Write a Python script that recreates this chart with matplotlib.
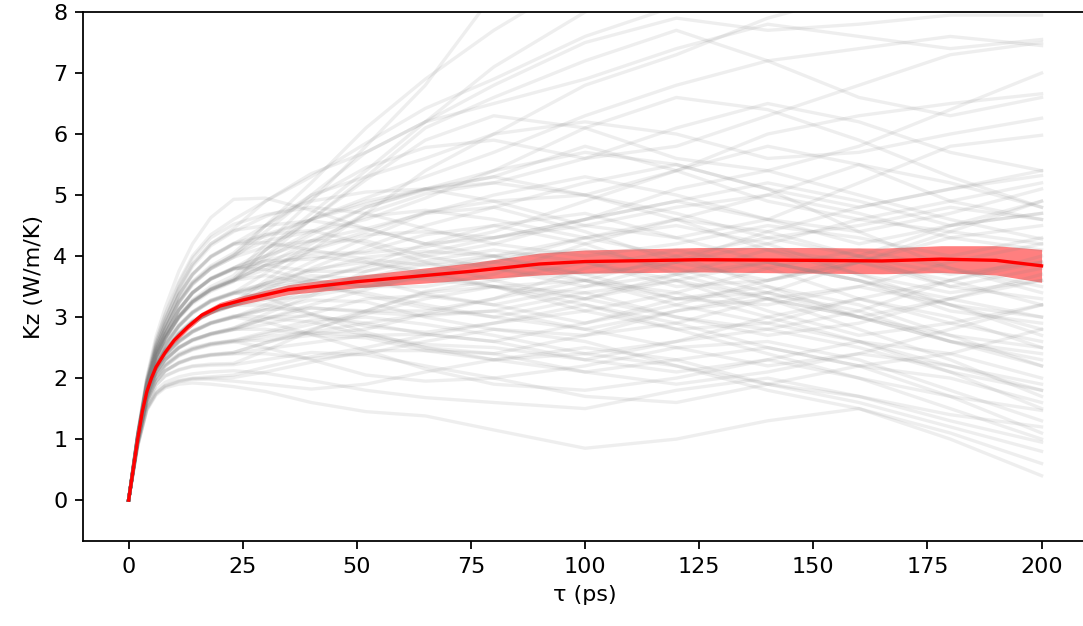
"""Green-Kubo running integral of Kz for each trajectory, with the ensemble mean."""

import matplotlib

matplotlib.use("Agg")
import matplotlib.pyplot as plt
import numpy as np

# correlation time grid shared by the individual trajectories (ps)
tau = [0, 2, 4, 6, 8, 11, 14, 18, 23, 30, 40, 52, 65, 80, 100, 120, 140, 160, 180, 200]

# running Kz integrals of the individual trajectories (W/m/K)
runs = [
    [0, 1.03, 1.86, 2.36, 2.68, 3.02, 3.28, 3.5, 3.68, 4.2, 4.9, 5.8, 6.8, 8.3, 9.5, 10, 10, 10, 10, 10],
    [0, 1.05, 1.9, 2.45, 2.82, 3.28, 3.58, 3.84, 4.05, 4.5, 5.2, 6.1, 6.9, 7.7, 8.6, 9, 9, 9, 9, 9],
    [0, 1.02, 1.84, 2.33, 2.63, 2.98, 3.22, 3.42, 3.58, 4.1, 4.7, 5.4, 6.2, 7.1, 8.0, 8.6, 9, 9, 9, 9],
    [0, 1.08, 1.96, 2.56, 2.97, 3.48, 3.87, 4.2, 4.45, 4.9, 5.35, 5.7, 6.2, 6.8, 7.5, 7.9, 7.7, 7.8, 7.95, 7.95],
    [0, 1.06, 1.91, 2.46, 2.8, 3.24, 3.54, 3.8, 4.02, 4.4, 5.0, 5.7, 6.2, 6.5, 6.9, 7.4, 7.8, 7.6, 7.4, 7.55],
    [0, 1.1, 2.02, 2.68, 3.15, 3.75, 4.2, 4.63, 4.93, 4.95, 4.75, 4.45, 4.2, 4.3, 4.6, 4.9, 5.2, 4.9, 4.5, 4.7],
    [0, 1.04, 1.85, 2.36, 2.66, 3.01, 3.26, 3.47, 3.63, 4.0, 4.6, 5.3, 6.1, 6.6, 7.2, 7.7, 7.2, 6.6, 6.3, 6.6],
    [0, 1.05, 1.89, 2.44, 2.79, 3.26, 3.57, 3.82, 4.0, 4.5, 5.0, 5.3, 5.6, 6.0, 6.2, 6.0, 5.6, 5.7, 6.0, 6.26],
    [0, 1.0, 1.79, 2.22, 2.47, 2.75, 2.95, 3.1, 3.24, 3.6, 4.1, 4.7, 5.4, 6.0, 6.8, 7.3, 7.9, 8.3, 8.6, 8.8],
    [0, 1.03, 1.84, 2.34, 2.64, 3.0, 3.24, 3.45, 3.62, 4.1, 4.6, 4.95, 5.3, 5.7, 6.3, 6.8, 7.2, 7.4, 7.6, 7.45],
    [0, 1.08, 1.94, 2.54, 2.94, 3.44, 3.83, 4.17, 4.4, 4.65, 4.9, 5.05, 5.1, 4.9, 4.5, 4.3, 4.6, 5.2, 5.8, 5.98],
    [0, 1.04, 1.9, 2.45, 2.8, 3.24, 3.55, 3.79, 3.98, 4.35, 4.6, 4.85, 5.1, 5.4, 5.7, 5.5, 5.1, 4.8, 5.1, 5.32],
    [0, 1.03, 1.86, 2.37, 2.67, 3.02, 3.27, 3.46, 3.61, 3.95, 4.35, 4.8, 5.1, 5.3, 5.0, 5.4, 6.0, 6.3, 6.5, 6.66],
    [0, 1.05, 1.9, 2.46, 2.81, 3.25, 3.56, 3.8, 4.01, 4.25, 4.4, 4.6, 4.95, 5.4, 6.1, 6.6, 6.4, 5.9, 5.3, 4.8],
    [0, 1.02, 1.85, 2.34, 2.65, 3.0, 3.24, 3.44, 3.59, 3.85, 4.25, 4.65, 4.75, 4.6, 4.3, 4.6, 5.0, 5.5, 5.2, 4.8],
    [0, 1.0, 1.77, 2.2, 2.46, 2.74, 2.93, 3.09, 3.21, 3.55, 3.9, 4.3, 4.7, 5.0, 5.3, 5.0, 4.6, 4.4, 4.7, 5.1],
    [0, 1.03, 1.85, 2.35, 2.64, 2.99, 3.25, 3.46, 3.6, 3.78, 4.1, 4.35, 4.4, 4.3, 4.6, 5.1, 5.4, 5.0, 4.6, 4.28],
    [0, 1.07, 1.95, 2.55, 2.96, 3.46, 3.86, 4.2, 4.42, 4.5, 4.58, 4.45, 4.2, 4.0, 3.7, 3.9, 4.4, 4.8, 5.1, 5.4],
    [0, 0.99, 1.78, 2.21, 2.44, 2.71, 2.9, 3.06, 3.19, 3.45, 3.8, 4.15, 4.5, 4.8, 5.2, 5.5, 5.1, 4.4, 3.8, 3.5],
    [0, 1.03, 1.84, 2.35, 2.66, 3.01, 3.25, 3.44, 3.6, 3.85, 4.05, 4.05, 4.15, 4.4, 4.9, 5.4, 5.8, 5.5, 4.9, 4.6],
    [0, 1.06, 1.9, 2.44, 2.79, 3.23, 3.53, 3.79, 3.98, 4.15, 4.25, 4.45, 4.7, 4.8, 4.4, 3.9, 3.6, 3.9, 4.4, 4.9],
    [0, 1.0, 1.78, 2.2, 2.45, 2.72, 2.92, 3.08, 3.2, 3.38, 3.6, 3.85, 4.2, 4.5, 4.7, 4.3, 3.9, 3.6, 3.3, 3.0],
    [0, 0.98, 1.71, 2.1, 2.31, 2.51, 2.63, 2.73, 2.82, 3.05, 3.35, 3.75, 4.0, 4.2, 4.6, 4.9, 4.6, 4.2, 4.5, 4.9],
    [0, 1.01, 1.79, 2.21, 2.46, 2.73, 2.93, 3.09, 3.22, 3.45, 3.6, 3.5, 3.5, 3.7, 4.2, 4.6, 4.4, 4.0, 3.7, 3.9],
    [0, 1.03, 1.85, 2.35, 2.65, 3.0, 3.25, 3.45, 3.61, 3.85, 4.0, 3.9, 3.7, 3.5, 3.6, 4.0, 4.3, 4.0, 3.5, 3.3],
    [0, 0.97, 1.7, 2.09, 2.3, 2.5, 2.62, 2.72, 2.8, 2.97, 3.2, 3.45, 3.7, 3.9, 3.7, 3.3, 3.4, 3.9, 4.3, 4.5],
    [0, 1.0, 1.78, 2.19, 2.44, 2.71, 2.91, 3.07, 3.19, 3.28, 3.35, 3.5, 3.75, 4.0, 4.3, 4.0, 3.5, 3.0, 2.6, 2.3],
    [0, 0.98, 1.7, 2.1, 2.3, 2.49, 2.61, 2.71, 2.79, 2.88, 3.05, 3.3, 3.35, 3.2, 2.9, 3.2, 3.6, 3.9, 3.6, 3.2],
    [0, 1.0, 1.78, 2.2, 2.45, 2.72, 2.92, 3.08, 3.2, 3.38, 3.48, 3.4, 3.2, 3.0, 3.3, 3.7, 3.9, 3.6, 3.2, 2.8],
    [0, 0.98, 1.69, 2.09, 2.29, 2.49, 2.62, 2.72, 2.8, 2.97, 3.15, 3.1, 3.1, 3.3, 3.8, 4.1, 3.8, 3.3, 2.9, 2.6],
    [0, 0.95, 1.62, 1.95, 2.12, 2.26, 2.34, 2.39, 2.42, 2.58, 2.8, 3.05, 3.3, 3.5, 3.4, 3.0, 2.7, 2.9, 3.3, 3.6],
    [0, 0.97, 1.7, 2.1, 2.3, 2.5, 2.63, 2.73, 2.8, 2.8, 2.72, 2.8, 3.05, 3.3, 3.6, 3.4, 3.0, 2.6, 2.2, 1.9],
    [0, 1.03, 1.85, 2.35, 2.65, 3.0, 3.25, 3.45, 3.6, 3.68, 3.55, 3.35, 3.15, 3.0, 2.8, 3.1, 3.4, 3.1, 2.6, 2.2],
    [0, 1.0, 1.77, 2.2, 2.45, 2.72, 2.92, 3.07, 3.19, 3.2, 3.05, 2.85, 2.75, 2.9, 3.2, 2.9, 2.5, 2.2, 2.4, 2.8],
    [0, 0.95, 1.62, 1.95, 2.12, 2.25, 2.33, 2.38, 2.42, 2.58, 2.75, 2.7, 2.5, 2.4, 2.7, 3.1, 3.3, 3.0, 2.7, 2.5],
    [0, 0.98, 1.7, 2.1, 2.3, 2.5, 2.63, 2.73, 2.82, 2.98, 2.92, 2.7, 2.55, 2.5, 2.3, 2.6, 3.0, 3.3, 3.6, 3.9],
    [0, 0.95, 1.61, 1.94, 2.11, 2.24, 2.32, 2.37, 2.4, 2.48, 2.58, 2.7, 2.72, 2.6, 2.3, 2.1, 2.3, 2.6, 2.4, 2.0],
    [0, 0.9, 1.5, 1.76, 1.88, 1.96, 2.0, 2.02, 2.05, 2.18, 2.35, 2.5, 2.7, 2.9, 3.1, 2.8, 2.4, 2.0, 1.7, 1.47],
    [0, 0.95, 1.62, 1.95, 2.12, 2.25, 2.33, 2.38, 2.4, 2.4, 2.32, 2.4, 2.6, 2.8, 2.6, 2.2, 1.9, 1.7, 1.3, 0.95],
    [0, 0.9, 1.5, 1.75, 1.87, 1.95, 1.99, 1.98, 1.95, 1.9, 1.82, 1.9, 2.1, 2.3, 2.5, 2.3, 1.9, 1.6, 1.2, 0.8],
    [0, 0.88, 1.47, 1.72, 1.84, 1.9, 1.92, 1.9, 1.86, 1.78, 1.6, 1.45, 1.38, 1.15, 0.85, 1.0, 1.3, 1.5, 1.1, 0.6],
    [0, 0.91, 1.53, 1.8, 1.93, 2.02, 2.07, 2.1, 2.12, 2.08, 1.96, 1.8, 1.68, 1.6, 1.5, 1.8, 2.0, 1.7, 1.4, 1.2],
    [0, 0.96, 1.66, 2.02, 2.2, 2.37, 2.47, 2.55, 2.6, 2.5, 2.3, 2.05, 1.95, 2.0, 2.2, 2.5, 2.6, 2.3, 1.8, 1.3],
    [0, 0.99, 1.74, 2.15, 2.38, 2.6, 2.76, 2.9, 3.0, 2.92, 2.72, 2.45, 2.15, 1.9, 1.8, 2.0, 2.3, 2.0, 1.5, 1.0],
    [0, 1.01, 1.81, 2.27, 2.55, 2.86, 3.08, 3.27, 3.4, 3.32, 3.05, 2.75, 2.5, 2.3, 2.4, 2.2, 1.8, 1.5, 1.0, 0.4],
    [0, 0.93, 1.57, 1.88, 2.03, 2.13, 2.19, 2.21, 2.22, 2.3, 2.42, 2.38, 2.2, 2.0, 1.7, 1.6, 1.9, 2.2, 2.0, 1.6],
    [0, 0.97, 1.68, 2.04, 2.23, 2.4, 2.5, 2.57, 2.62, 2.75, 2.95, 3.0, 2.88, 2.7, 2.4, 2.6, 2.8, 2.5, 2.1, 1.8],
    [0, 0.99, 1.75, 2.16, 2.4, 2.62, 2.78, 2.91, 3.01, 3.12, 3.15, 3.08, 3.02, 3.1, 3.4, 3.6, 3.3, 2.8, 2.3, 1.7],
    [0, 1.04, 1.88, 2.4, 2.72, 3.12, 3.4, 3.63, 3.8, 3.78, 3.6, 3.5, 3.65, 3.8, 3.6, 3.2, 2.9, 2.6, 2.1, 1.5],
    [0, 0.96, 1.67, 2.03, 2.21, 2.38, 2.48, 2.56, 2.61, 2.72, 2.88, 3.1, 3.42, 3.6, 3.9, 3.6, 3.1, 2.7, 2.9, 3.2],
    [0, 1.01, 1.8, 2.26, 2.54, 2.85, 3.07, 3.26, 3.39, 3.55, 3.75, 3.98, 4.08, 4.0, 3.6, 3.3, 3.2, 3.5, 3.9, 4.2],
    [0, 1.04, 1.87, 2.39, 2.71, 3.11, 3.39, 3.62, 3.79, 3.92, 3.95, 4.08, 4.35, 4.5, 4.2, 3.7, 3.3, 3.0, 3.3, 3.7],
    [0, 1.07, 1.93, 2.5, 2.88, 3.36, 3.7, 3.99, 4.2, 4.22, 4.1, 3.95, 3.85, 3.9, 4.3, 4.5, 4.2, 3.7, 3.2, 2.7],
    [0, 0.93, 1.58, 1.89, 2.04, 2.14, 2.2, 2.23, 2.24, 2.45, 2.78, 3.1, 3.4, 3.5, 3.2, 2.8, 2.9, 3.3, 3.0, 2.5],
    [0, 0.99, 1.73, 2.14, 2.37, 2.59, 2.75, 2.89, 2.99, 3.12, 3.28, 3.25, 3.0, 2.8, 2.7, 2.9, 3.3, 3.5, 3.2, 3.0],
    [0, 1.01, 1.82, 2.28, 2.56, 2.87, 3.09, 3.28, 3.41, 3.55, 3.78, 3.9, 3.75, 3.5, 3.1, 3.4, 3.8, 4.1, 3.8, 3.4],
    [0, 1.04, 1.89, 2.41, 2.73, 3.13, 3.41, 3.64, 3.81, 4.0, 4.25, 4.25, 4.0, 3.8, 3.5, 3.7, 4.1, 3.9, 3.5, 3.8],
    [0, 1.07, 1.94, 2.51, 2.89, 3.37, 3.71, 4.0, 4.21, 4.35, 4.42, 4.2, 3.9, 3.6, 3.3, 3.0, 2.8, 3.1, 3.6, 4.0],
    [0, 0.96, 1.65, 2.01, 2.19, 2.36, 2.46, 2.54, 2.59, 2.68, 2.75, 2.9, 3.05, 3.1, 2.8, 2.5, 2.2, 2.4, 2.8, 3.2],
    [0, 0.99, 1.74, 2.15, 2.38, 2.61, 2.77, 2.91, 3.02, 3.0, 3.02, 2.9, 2.72, 2.6, 2.9, 3.3, 3.5, 3.2, 2.7, 2.2],
    [0, 1.09, 1.98, 2.6, 3.02, 3.55, 3.96, 4.3, 4.52, 4.68, 4.8, 4.7, 4.45, 4.2, 4.0, 4.2, 4.5, 4.3, 4.0, 4.3],
    [0, 1.0, 1.8, 2.26, 2.53, 2.84, 3.06, 3.25, 3.38, 3.5, 3.62, 3.82, 4.05, 4.3, 4.5, 4.8, 5.0, 4.7, 4.3, 4.1],
    [0, 1.04, 1.88, 2.4, 2.72, 3.12, 3.4, 3.62, 3.79, 3.85, 3.75, 3.75, 3.92, 4.1, 3.9, 3.5, 3.6, 4.0, 4.5, 4.7],
    [0, 0.98, 1.73, 2.14, 2.37, 2.59, 2.76, 2.9, 3.0, 3.2, 3.48, 3.68, 3.62, 3.5, 3.3, 3.6, 3.9, 3.6, 3.1, 2.9],
    [0, 0.89, 1.49, 1.74, 1.86, 1.94, 1.98, 2.0, 2.01, 2.1, 2.26, 2.45, 2.45, 2.4, 2.1, 1.9, 2.1, 2.4, 2.2, 1.8],
    [0, 0.96, 1.66, 2.02, 2.21, 2.38, 2.48, 2.56, 2.61, 2.62, 2.7, 2.66, 2.45, 2.3, 2.1, 2.3, 2.5, 2.2, 1.7, 1.1],
    [0, 1.06, 1.92, 2.49, 2.87, 3.35, 3.69, 3.98, 4.19, 4.32, 4.6, 4.9, 5.1, 5.2, 5.0, 4.7, 4.3, 4.5, 4.8, 4.6],
    [0, 1.03, 1.87, 2.39, 2.71, 3.11, 3.39, 3.62, 3.78, 3.92, 4.12, 4.4, 4.72, 4.9, 5.0, 4.6, 4.1, 3.7, 3.4, 3.6],
    [0, 1.0, 1.81, 2.27, 2.54, 2.85, 3.07, 3.26, 3.39, 3.52, 3.68, 3.62, 3.38, 3.2, 3.5, 3.9, 4.2, 4.6, 4.9, 5.2],
    [0, 0.98, 1.74, 2.15, 2.38, 2.6, 2.76, 2.9, 3.0, 3.15, 3.4, 3.65, 3.87, 4.0, 4.1, 3.8, 3.4, 3.0, 2.6, 2.4],
    [0, 1.04, 1.88, 2.4, 2.72, 3.12, 3.4, 3.63, 3.8, 4.1, 4.6, 5.25, 5.9, 6.3, 6.1, 5.6, 5.4, 5.8, 6.4, 7.0],
    [0, 1.07, 1.93, 2.5, 2.88, 3.36, 3.7, 3.99, 4.2, 4.5, 4.95, 5.45, 5.78, 5.9, 5.6, 5.8, 6.3, 6.8, 7.3, 7.5],
    [0, 1.09, 1.99, 2.62, 3.05, 3.58, 4.0, 4.35, 4.6, 4.9, 5.3, 5.85, 6.42, 6.9, 7.6, 8.1, 8.5, 8.8, 9, 9],
    [0, 1.01, 1.81, 2.27, 2.55, 2.86, 3.08, 3.27, 3.4, 3.72, 4.2, 4.7, 5.02, 5.2, 5.6, 6.1, 6.5, 6.2, 5.7, 5.4],
    [0, 1.04, 1.88, 2.4, 2.72, 3.12, 3.4, 3.63, 3.8, 4.0, 4.4, 4.8, 5.08, 5.3, 5.8, 5.4, 4.9, 4.6, 4.4, 4.2],
]

# ensemble mean and its standard error
mean_tau = [0, 1, 2, 3, 4, 5, 6, 8, 10, 13, 16, 20, 25, 35, 50, 75, 90, 100, 125, 150, 165, 178, 190, 200]
mean_k = [0, 0.5, 1.0, 1.45, 1.78, 2.0, 2.18, 2.42, 2.62, 2.84, 3.03, 3.18, 3.28, 3.45, 3.58, 3.75,
          3.87, 3.91, 3.94, 3.93, 3.92, 3.95, 3.93, 3.84]
mean_err = [0, 0.01, 0.02, 0.02, 0.03, 0.03, 0.04, 0.04, 0.05, 0.05, 0.05, 0.06, 0.07, 0.08, 0.1,
            0.14, 0.18, 0.19, 0.2, 0.21, 0.21, 0.22, 0.24, 0.27]

plt.rcParams["font.size"] = 10

fig = plt.figure(figsize=(1083 / 160, 626 / 160), dpi=160)
ax = fig.add_axes([0.0766, 0.1358, 0.9273, 0.845])

for k in runs:
    ax.plot(tau, k, color="gray", alpha=0.13, linewidth=1.5)

mk = np.array(mean_k)
me = np.array(mean_err)
ax.fill_between(mean_tau, mk - me, mk + me, color="red", alpha=0.5, linewidth=0)
ax.plot(mean_tau, mk, color="red", linewidth=1.5)

ax.set_xlim(-10, 210)
ax.set_ylim(-0.67, 8)
ax.set_xticks([0, 25, 50, 75, 100, 125, 150, 175, 200])
ax.set_xlabel("τ (ps)")
ax.set_ylabel("Kz (W/m/K)")

fig.savefig("out.png", dpi=160)
